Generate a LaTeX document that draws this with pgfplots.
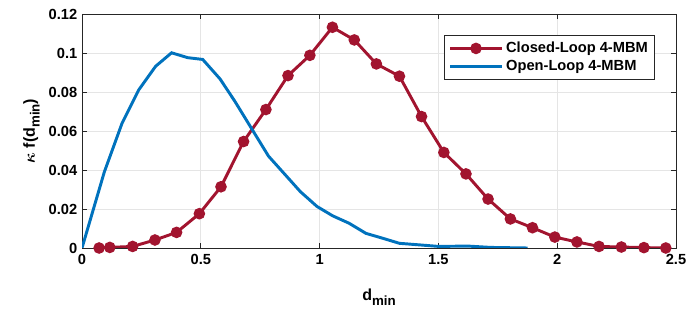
\documentclass[border=0pt]{standalone}
\usepackage{fontspec}
\setmainfont{Liberation Sans}
\usepackage{amsmath}
\usepackage{bm}
\usepackage{pgfplots}
\pgfplotsset{compat=1.18}

\definecolor{mred}{rgb}{0.635,0.078,0.184}
\definecolor{mblue}{rgb}{0,0.447,0.741}
\definecolor{maxis}{rgb}{0.15,0.15,0.15}

\newcommand{\dmin}{d\raisebox{-0.55ex}{\fontsize{10}{12}\selectfont min}}

\begin{document}
\begin{tikzpicture}[font=\fontsize{11}{13}\selectfont\bfseries]
\begin{axis}[
    width=445.5pt, height=175.5pt,
    scale only axis,
    xmin=0, xmax=2.5,
    ymin=0, ymax=0.12,
    xtick={0,0.5,1,1.5,2,2.5},
    ytick={0,0.02,0.04,0.06,0.08,0.1,0.12},
    xticklabels={0,0.5,1,1.5,2,2.5},
    yticklabels={0,0.02,0.04,0.06,0.08,0.1,0.12},
    xticklabel style={yshift=-1.5pt},
    grid=major,
    major grid style={draw=black!10, line width=0.6pt},
    axis line style={draw=maxis, line width=0.6pt},
    tick style={draw=maxis, line width=0.6pt},
    major tick length=4pt,
    tick align=inside,
    xtick pos=both, ytick pos=both,
    xlabel={\dmin},
    ylabel={$\bm{\kappa}$ f(\dmin)},
    xlabel style={font=\fontsize{12}{14}\selectfont\bfseries, yshift=-11pt},
    ylabel style={font=\fontsize{12}{14}\selectfont\bfseries},
    /pgf/number format/assume math mode=true,
    legend style={at={(0.9646,0.91)}, anchor=north east,
        draw=maxis, line width=0.6pt, inner xsep=3pt, inner ysep=3pt,
        font=\fontsize{11}{13}\selectfont\bfseries,
        cells={anchor=west}, row sep=0pt},
    legend image code/.code={
        \draw[mark repeat=2, mark phase=2, #1]
            plot coordinates {(0pt,0pt) (19.5pt,0pt) (39pt,0pt)};
    },
]
\addplot[color=mred, line width=2.2pt, mark=*, mark size=3.2pt] coordinates {
    (0.072,0.0000) (0.117,0.0003) (0.213,0.0008) (0.307,0.0041) (0.398,0.0080)
    (0.494,0.0176) (0.585,0.0314) (0.680,0.0546) (0.774,0.0710) (0.867,0.0884)
    (0.959,0.0988) (1.054,0.1132) (1.146,0.1067) (1.239,0.0944) (1.336,0.0881)
    (1.429,0.0674) (1.523,0.0490) (1.616,0.0380) (1.709,0.0251) (1.803,0.0149)
    (1.896,0.0104) (1.990,0.0056) (2.083,0.0031) (2.176,0.0008) (2.270,0.0005)
    (2.365,0.0002) (2.457,0.0000)
};
\addlegendentry{Closed-Loop 4-MBM}
\addplot[color=mblue, line width=2.2pt] coordinates {
    (0.000,0.0000) (0.094,0.0390) (0.168,0.0638) (0.239,0.0811) (0.310,0.0932)
    (0.377,0.1001) (0.445,0.0976) (0.508,0.0967) (0.581,0.0867) (0.644,0.0751)
    (0.785,0.0471) (0.919,0.0289) (0.989,0.0213) (1.055,0.0165) (1.124,0.0127)
    (1.195,0.0075) (1.260,0.0052) (1.336,0.0024) (1.420,0.0016) (1.502,0.0008)
    (1.622,0.0010) (1.720,0.0003) (1.875,0.0000)
};
\addlegendentry{Open-Loop 4-MBM}
\end{axis}
\pgfresetboundingbox
\path ([shift={(-61.5pt,-54pt)}]current axis.south west) rectangle ([shift={(16.5pt,10.5pt)}]current axis.north east);
\end{tikzpicture}
\end{document}
